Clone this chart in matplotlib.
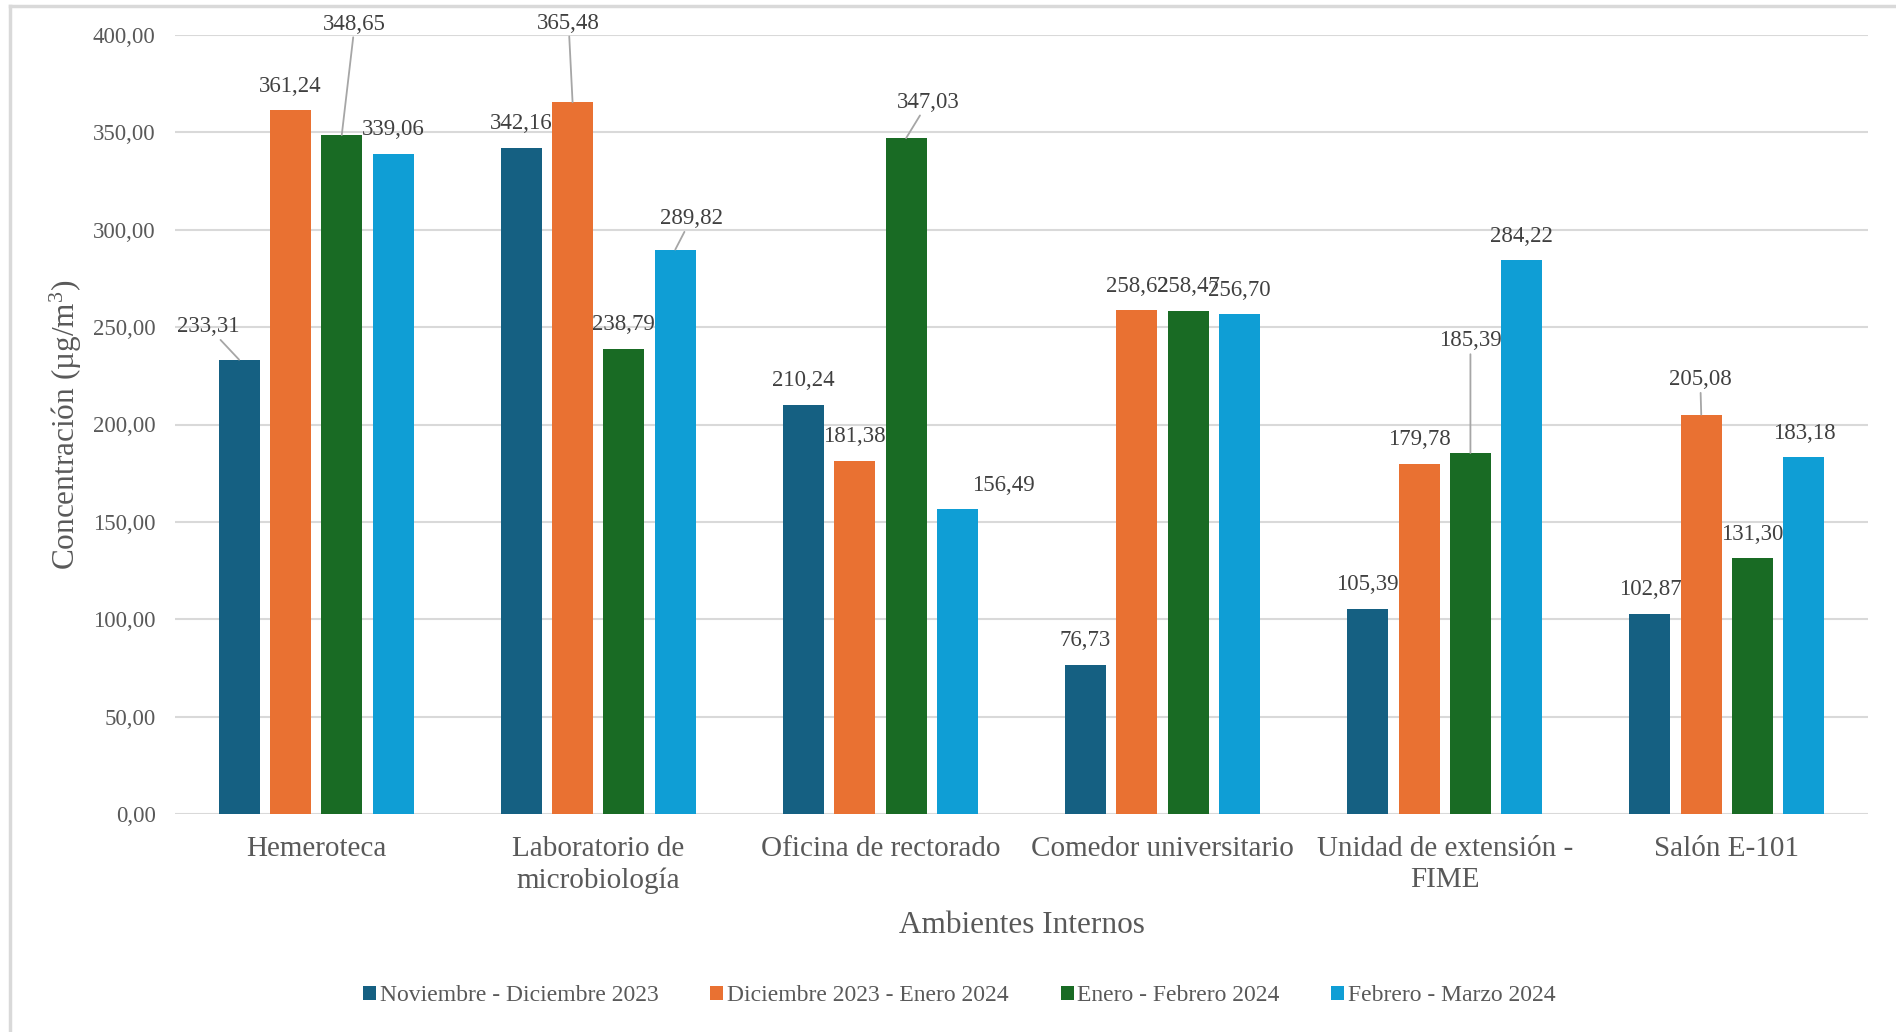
import numpy as np
import matplotlib
matplotlib.use("Agg")
import matplotlib.pyplot as plt
from matplotlib.lines import Line2D
from matplotlib.patches import Patch

plt.rcParams["font.family"] = ["Liberation Serif", "DejaVu Serif"]
plt.rcParams["mathtext.fontset"] = "custom"
plt.rcParams["mathtext.rm"] = "Liberation Serif"
plt.rcParams["mathtext.it"] = "Liberation Serif"

categorias = ["Hemeroteca", "Laboratorio de\nmicrobiología", "Oficina de rectorado",
              "Comedor universitario", "Unidad de extensión -\nFIME", "Salón E-101"]
periodos = ["Noviembre - Diciembre 2023", "Diciembre 2023 - Enero 2024",
            "Enero - Febrero 2024", "Febrero - Marzo 2024"]
nov_dic = [233.31, 342.16, 210.24, 76.73, 105.39, 102.87]
dic_ene = [361.24, 365.48, 181.38, 258.62, 179.78, 205.08]
ene_feb = [348.65, 238.79, 347.03, 258.47, 185.39, 131.30]
feb_mar = [339.06, 289.82, 156.49, 256.70, 284.22, 183.18]
series = [nov_dic, dic_ene, ene_feb, feb_mar]
colores = ["#156082", "#E97132", "#196B24", "#0F9ED5"]

# desplazamiento de etiquetas (px) y si llevan linea guia
especiales = {
    (0, 0): (-31, 33, True),
    (0, 2): (13, 111, True),
    (1, 1): (-4, 79, True),
    (1, 3): (16, 31, True),
    (2, 2): (22, 36, True),
    (2, 3): (46, 24, False),
    (4, 2): (0, 112, True),
    (5, 1): (-1, 35, True),
}

fig = plt.figure(figsize=(18.96, 10.32), dpi=100)
ax = fig.add_axes([175 / 1896, 1 - 814 / 1032, (1868 - 175) / 1896, (814 - 35) / 1032])

x = np.arange(len(categorias))
ancho = 0.145
paso = 0.182
for i, (vals, col) in enumerate(zip(series, colores)):
    pos = x + (i - 1.5) * paso
    ax.bar(pos, vals, width=ancho, color=col, zorder=3)
    for j, v in enumerate(vals):
        dx, dy, linea = especiales.get((j, i), (0, 24, False))
        etiqueta = f"{v:.2f}".replace(".", ",")
        props = None
        if linea:
            props = dict(arrowstyle="-", color="#a6a6a6", lw=1.3, shrinkA=0, shrinkB=0)
        ax.annotate(etiqueta, xy=(pos[j], v), xytext=(dx, dy), textcoords="offset pixels",
                    ha="center", va="center", fontsize=16.5, color="#404040",
                    arrowprops=props, zorder=4)

ax.set_xlim(-0.5, len(categorias) - 0.5)
ax.set_ylim(0, 400)
ax.set_yticks(np.arange(0, 401, 50))
ax.set_yticklabels([f"{t:.2f}".replace(".", ",") for t in np.arange(0, 401, 50)])
ax.set_xticks(x)
ax.set_xticklabels(categorias, fontsize=21, color="#595959", linespacing=1.25)
ax.tick_params(axis="y", labelsize=16.5, labelcolor="#595959", length=0, pad=14)
ax.tick_params(axis="x", length=0, pad=16)
ax.grid(axis="y", color="#d9d9d9", lw=1.5, zorder=0)
for s in ax.spines.values():
    s.set_visible(False)

ax.set_xlabel("Ambientes Internos", fontsize=22.5, color="#595959", labelpad=12)
ax.set_ylabel("Concentración (µg/m$^{3}$)", fontsize=22.5, color="#595959", labelpad=6)

handles = [Patch(facecolor=c) for c in colores]
fig.legend(handles, periodos, loc="center", bbox_to_anchor=(0.506, 0.035), ncol=4,
           frameon=False, fontsize=17, handlelength=0.55, handleheight=0.55,
           handletextpad=0.15, columnspacing=2.2, labelcolor="#595959")

# borde del grafico
fig.add_artist(Line2D([10 / 1896, 10 / 1896], [0, 1 - 6 / 1032], color="#d9d9d9", lw=2.5,
                      transform=fig.transFigure))
fig.add_artist(Line2D([10 / 1896, 1], [1 - 6 / 1032, 1 - 6 / 1032], color="#d9d9d9", lw=2.5,
                      transform=fig.transFigure))

fig.savefig("out.png", dpi=100)
